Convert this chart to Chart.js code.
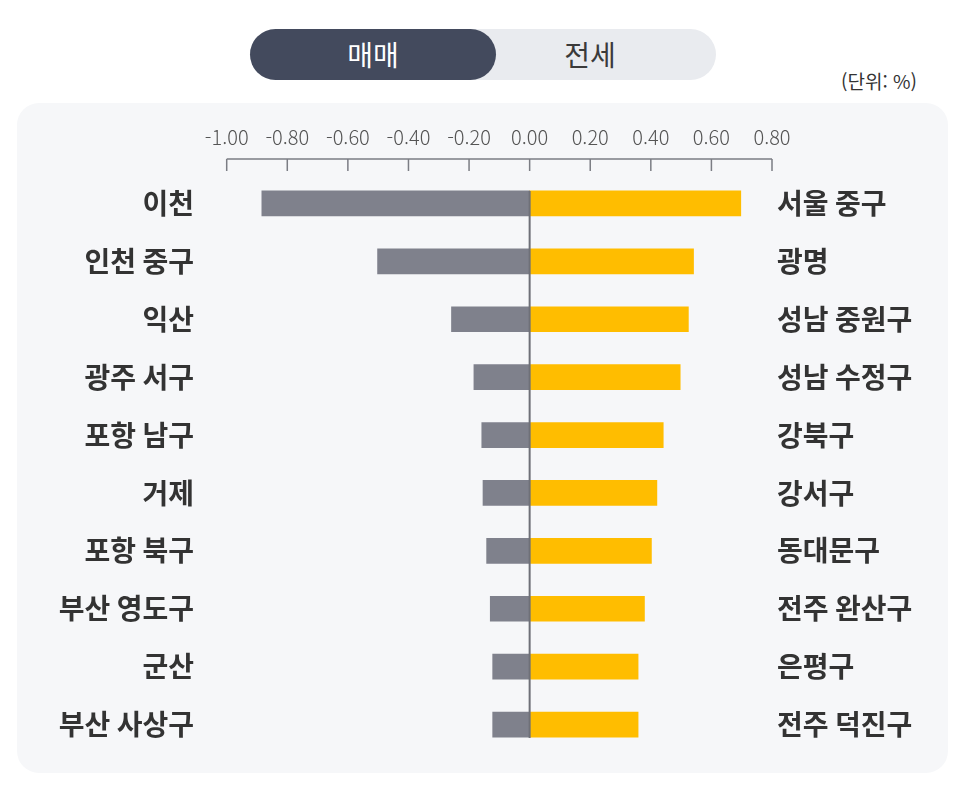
<!DOCTYPE html>
<html lang="ko">
<head>
<meta charset="utf-8">
<script src="https://cdn.jsdelivr.net/npm/chart.js@4/dist/chart.umd.min.js"></script>
<style>
  html, body { margin: 0; padding: 0; background: #ffffff; width: 966px; height: 798px; overflow: hidden; font-family: "Noto Sans CJK KR", "Noto Sans", sans-serif; }
  #panel { position: absolute; left: 17px; top: 103px; width: 931px; height: 670px; background: #f6f7f9; border-radius: 22px; }
  #toggle { position: absolute; left: 250px; top: 29px; width: 466px; height: 51px; background: #e9ebef; border-radius: 26px; }
  #toggle .on { position: absolute; left: 0; top: 0; width: 246px; height: 51px; background: #434a5d; border-radius: 26px; color: #ffffff; font-size: 28px; font-weight: 400; line-height: 51px; text-align: center; }
  #toggle .off { position: absolute; left: 246px; top: 0; width: 188px; height: 51px; color: #3a3a3a; font-size: 28px; font-weight: 400; line-height: 51px; text-align: center; }
  #unit { position: absolute; left: 841px; top: 67px; font-size: 19px; color: #333333; }
  #c { position: absolute; left: 0; top: 0; }
</style>
</head>
<body>
<div id="panel"></div>
<div id="toggle"><div class="on">매매</div><div class="off">전세</div></div>
<div id="unit">(단위: %)</div>
<canvas id="c" width="966" height="798"></canvas>
<script>
const leftLabels = ["이천", "인천 중구", "익산", "광주 서구", "포항 남구", "거제", "포항 북구", "부산 영도구", "군산", "부산 사상구"];
const rightLabels = ["서울 중구", "광명", "성남 중원구", "성남 수정구", "강북구", "강서구", "동대문구", "전주 완산구", "은평구", "전주 덕진구"];
const saleValues = [-0.884, -0.502, -0.258, -0.184, -0.158, -0.154, -0.142, -0.130, -0.122, -0.122];
const rentValues = [0.697, 0.541, 0.524, 0.497, 0.441, 0.420, 0.402, 0.379, 0.358, 0.358];
const xTickValues = [-1.0, -0.8, -0.6, -0.4, -0.2, 0.0, 0.2, 0.4, 0.6, 0.8];

const FONT = '"Noto Sans CJK KR", "Noto Sans", sans-serif';
const BAR = 25;

const axisMarks = {
  id: 'axisMarks',
  afterDraw(chart) {
    const ctx = chart.ctx;
    const xs = chart.scales.x;
    const lineY = chart.chartArea.top - 15.5;
    ctx.save();
    ctx.strokeStyle = '#7b7d84';
    ctx.lineWidth = 1.5;
    ctx.beginPath();
    ctx.moveTo(xs.getPixelForValue(xTickValues[0]), lineY);
    ctx.lineTo(xs.getPixelForValue(xTickValues[xTickValues.length - 1]), lineY);
    xTickValues.forEach(v => {
      const px = xs.getPixelForValue(v);
      ctx.moveTo(px, lineY);
      ctx.lineTo(px, lineY + 12);
    });
    ctx.stroke();
    ctx.restore();
  },
  afterDatasetsDraw(chart) {
    const ctx = chart.ctx;
    const xs = chart.scales.x, ys = chart.scales.y;
    const px = xs.getPixelForValue(0);
    ctx.save();
    ctx.strokeStyle = '#6e7078';
    ctx.lineWidth = 2;
    ctx.beginPath();
    ctx.moveTo(px, ys.getPixelForValue(0) - BAR / 2);
    ctx.lineTo(px, ys.getPixelForValue(leftLabels.length - 1) + BAR / 2 + 1);
    ctx.stroke();
    ctx.restore();
  }
};

new Chart(document.getElementById('c'), {
  type: 'bar',
  data: {
    labels: leftLabels,
    datasets: [
      { label: '매매 하락', data: saleValues, backgroundColor: '#7f818c', barThickness: BAR, borderWidth: 0 },
      { label: '전세 상승', data: rentValues, backgroundColor: '#ffbd00', barThickness: BAR, borderWidth: 0 }
    ]
  },
  options: {
    indexAxis: 'y',
    responsive: false,
    animation: false,
    layout: { padding: { top: 125.5, bottom: 44.5, left: 0, right: 0 } },
    plugins: { legend: { display: false }, tooltip: { enabled: false } },
    scales: {
      x: {
        position: 'top',
        stacked: true,
        min: -1.0,
        max: 0.8,
        afterBuildTicks(scale) { scale.ticks = xTickValues.map(v => ({ value: v })); },
        afterFit(scale) { scale.height = 49; scale.paddingLeft = 0; scale.paddingRight = 0; },
        ticks: {
          padding: 25,
          color: '#555555',
          font: { family: FONT, size: 20, weight: '300' },
          callback: v => Number(v).toFixed(2)
        },
        grid: { display: false, drawTicks: false },
        border: { display: false }
      },
      y: {
        position: 'left',
        stacked: true,
        afterFit(scale) { scale.width = 226.7; scale.paddingTop = 0; scale.paddingBottom = 0; },
        ticks: { padding: 32.7, color: '#333333', font: { family: FONT, size: 28, weight: 'bold' } },
        grid: { display: false, drawTicks: false },
        border: { display: false }
      },
      y2: {
        type: 'category',
        labels: rightLabels,
        position: 'right',
        offset: true,
        afterFit(scale) { scale.width = 194; scale.paddingTop = 0; scale.paddingBottom = 0; },
        ticks: { padding: 5, color: '#333333', font: { family: FONT, size: 28, weight: 'bold' } },
        grid: { display: false, drawTicks: false },
        border: { display: false }
      }
    }
  },
  plugins: [axisMarks]
});
</script>
</body>
</html>
